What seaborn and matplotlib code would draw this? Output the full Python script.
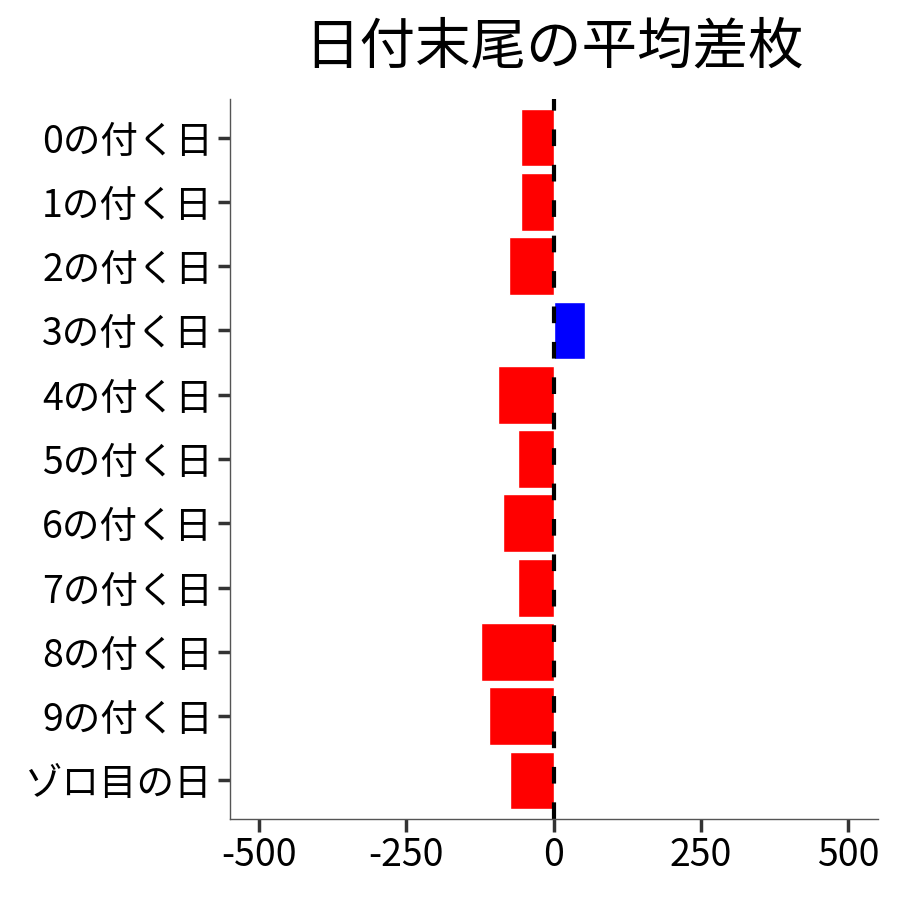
import matplotlib
matplotlib.use("Agg")
import matplotlib.pyplot as plt
import seaborn as sns
import pandas as pd

# values
labels = ["0の付く日", "1の付く日", "2の付く日", "3の付く日", "4の付く日",
          "5の付く日", "6の付く日", "7の付く日", "8の付く日", "9の付く日", "ゾロ目の日"]
avg_diff = [-55, -56, -75, 54, -94, -60, -85, -60, -123, -109, -74]

df = pd.DataFrame({"label": labels, "diff": avg_diff})
df["sign"] = ["plus" if v > 0 else "minus" for v in df["diff"]]

sns.set_style("white")
plt.rcParams["font.family"] = ["Noto Sans CJK JP", "DejaVu Sans"]
plt.rcParams["axes.unicode_minus"] = False

fig, ax = plt.subplots(figsize=(9, 9), dpi=100)
sns.barplot(data=df, x="diff", y="label", hue="sign",
            palette={"plus": "#0000FF", "minus": "#FF0000"},
            order=labels, width=0.9, dodge=False, legend=False,
            saturation=1, ax=ax)
ax.axvline(0, color="black", linestyle=(0, (4, 4.5)), linewidth=3)

ax.set_xlim(-550, 550)
ax.set_ylim(10.6, -0.6)
ax.set_xticks([-500, -250, 0, 250, 500])
ax.set_xlabel("")
ax.set_ylabel("")
ax.set_title("日付末尾の平均差枚", fontsize=40, pad=26, color="black")

ax.tick_params(axis="both", labelsize=27, length=9, width=2.5,
               color="#333333", labelcolor="black",
               bottom=True, left=True)
ax.tick_params(axis="y", pad=3)
for side in ["top", "right"]:
    ax.spines[side].set_visible(False)
for side in ["left", "bottom"]:
    ax.spines[side].set_color("#555555")
    ax.spines[side].set_linewidth(1)

fig.subplots_adjust(left=0.255, right=0.975, top=0.89, bottom=0.09)
fig.savefig("out.png", dpi=100)
